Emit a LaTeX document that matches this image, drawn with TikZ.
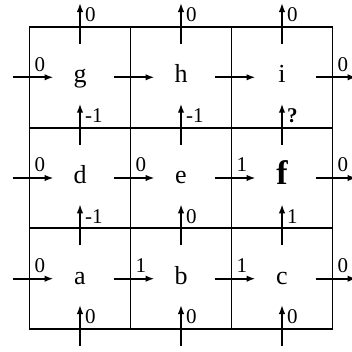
\documentclass[tikz,border=0pt]{standalone}
\usepackage{fontspec}
\setmainfont{Liberation Serif}
\usetikzlibrary{arrows.meta}
\begin{document}
\begin{tikzpicture}[x=1pt,y=-1pt,
  gridline/.style={line width=1.7pt},
  flow/.style={line width=1.7pt,-{Latex[length=9pt,width=6.5pt]}},
  cellname/.style={font=\fontsize{26}{30}\selectfont, anchor=base, inner sep=0pt},
  flowlabel/.style={font=\fontsize{21}{24}\selectfont, anchor=west, inner sep=0pt}]
\useasboundingbox (0,0) rectangle (352,351);
% grid
\draw[gridline] (29.5,27) rectangle (332.5,329);
\draw[gridline] (130.5,27) -- (130.5,329) (231.5,27) -- (231.5,329);
\draw[gridline] (29.5,127.7) -- (332.5,127.7) (29.5,228.3) -- (332.5,228.3);
% cell names
\node[cellname] (g) at (80,82.5) {g};
\node[cellname] (h) at (181,82.5) {h};
\node[cellname] (i) at (282,82.5) {i};
\node[cellname] (d) at (80,183.5) {d};
\node[cellname] (e) at (181,183.5) {e};
\node[cellname,font=\fontsize{34}{38}\selectfont\bfseries] (f) at (282,184) {f};
\node[cellname] (a) at (80,284) {a};
\node[cellname] (b) at (181,284) {b};
\node[cellname] (c) at (282,284) {c};
% horizontal flows
\foreach \r/\cy in {1/77.3,2/178,3/278.7}{
  \foreach \j/\lx in {0/29.5,1/130.5,2/231.5,3/332.5}{
    \coordinate (hs\r\j) at (\lx-17,\cy);
    \coordinate (he\r\j) at (\lx+24,\cy);
    \draw[flow] (hs\r\j) -- (he\r\j);
  }
}
% vertical flows
\foreach \c/\cx in {1/80,2/181,3/282}{
  \foreach \i/\ly in {0/27,1/127.7,2/228.3,3/329}{
    \coordinate (vs\c\i) at (\cx,\ly+17);
    \coordinate (ve\c\i) at (\cx,\ly-24);
    \draw[flow] (vs\c\i) -- (ve\c\i);
  }
}
% horizontal labels
\foreach \lx/\cy/\t [count=\k] in {29.5/77.3/0, 332.5/77.3/0,
   29.5/178/0, 130.5/178/0, 231.5/178/1, 332.5/178/0,
   29.5/278.7/0, 130.5/278.7/1, 231.5/278.7/1, 332.5/278.7/0}{
  \node[flowlabel] (hl\k) at (\lx+5,\cy-13) {\t};
}
% vertical labels
\foreach \cx/\ly/\t [count=\k] in {80/27/0, 181/27/0, 282/27/0,
   80/127.7/-1, 181/127.7/-1,
   80/228.3/-1, 181/228.3/0, 282/228.3/1,
   80/329/0, 181/329/0, 282/329/0}{
  \node[flowlabel] (vl\k) at (\cx+5,\ly-12) {\t};
}
\node[flowlabel,font=\fontsize{21}{24}\selectfont\bfseries] (q) at (287,115.7) {?};
\end{tikzpicture}
\end{document}
